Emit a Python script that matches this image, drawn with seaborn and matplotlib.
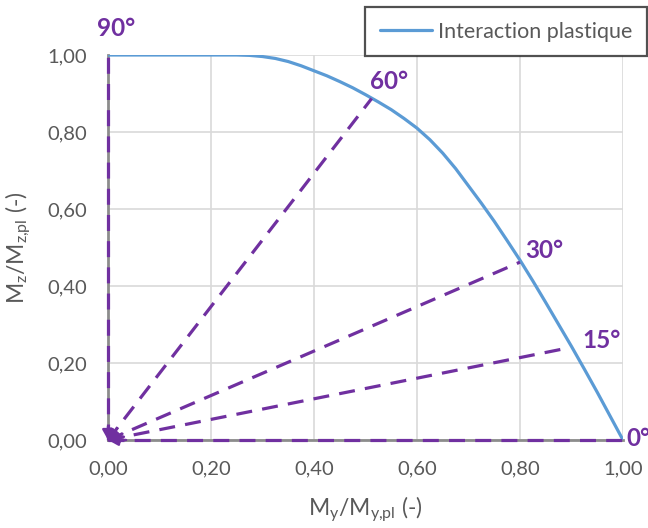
import numpy as np
import pandas as pd
import matplotlib
matplotlib.use("Agg")
import matplotlib.pyplot as plt
import seaborn as sns
from matplotlib.ticker import FuncFormatter

# Plastic interaction curve (My/My,pl vs Mz/Mz,pl)
curve_my = [0.000, 0.050, 0.100, 0.150, 0.200, 0.250, 0.275, 0.300, 0.325, 0.350,
            0.375, 0.400, 0.425, 0.450, 0.475, 0.500, 0.525, 0.550, 0.575, 0.600,
            0.625, 0.650, 0.675, 0.700, 0.725, 0.750, 0.775, 0.800, 0.825, 0.850,
            0.875, 0.900, 0.925, 0.950, 0.975, 1.000]
curve_mz = [1.000, 1.000, 1.000, 1.000, 1.000, 1.000, 0.999, 0.996, 0.991, 0.983,
            0.972, 0.959, 0.946, 0.931, 0.915, 0.897, 0.878, 0.858, 0.835, 0.810,
            0.780, 0.745, 0.705, 0.660, 0.615, 0.568, 0.518, 0.467, 0.413, 0.357,
            0.300, 0.243, 0.184, 0.124, 0.062, 0.000]

# Loading directions (angle label, end point of the ray)
angle_labels = ["0°", "15°", "30°", "60°", "90°"]
ray_end_my = [1.000, 0.882, 0.800, 0.512, 0.000]
ray_end_mz = [0.000, 0.236, 0.462, 0.887, 1.000]

x_ticks = [0.0, 0.2, 0.4, 0.6, 0.8, 1.0]
y_ticks = [0.0, 0.2, 0.4, 0.6, 0.8, 1.0]

sns.set_theme(style="white")
plt.rcParams["font.family"] = ["Lato", "DejaVu Sans"]
plt.rcParams["mathtext.default"] = "regular"

blue = "#5B9BD5"
purple = "#7030A0"
grey_txt = "#595959"

fig = plt.figure(figsize=(6.48, 5.28), dpi=100)
ax = fig.add_axes([108 / 648, 88 / 528, 515 / 648, 385 / 528])

curve_df = pd.DataFrame({"my": curve_my, "mz": curve_mz})
sns.lineplot(data=curve_df, x="my", y="mz", ax=ax, color=blue, linewidth=2.3,
             sort=False, estimator=None, errorbar=None,
             label="Interaction plastique", zorder=4)

for lab, ex, ey in zip(angle_labels, ray_end_my, ray_end_mz):
    ray_df = pd.DataFrame({"my": [0.0, ex], "mz": [0.0, ey]})
    sns.lineplot(data=ray_df, x="my", y="mz", ax=ax, color=purple, linewidth=2.3,
                 sort=False, estimator=None, errorbar=None, legend=False, zorder=5)
    ray = ax.lines[-1]
    ray.set_linestyle((0, (5.0, 3.2)))
    ray.set_clip_on(False)
    # arrowhead pointing back to the origin
    ax.annotate("", xy=(0.0, 0.0), xytext=(0.035 * ex, 0.035 * ey),
                arrowprops=dict(arrowstyle="-|>,head_length=0.5,head_width=0.28",
                                color=purple, lw=1.8, shrinkA=0, shrinkB=0),
                zorder=6, annotation_clip=False)

# label anchor: left edge, baseline
label_pos = {
    "0°": (1.007, -0.016),
    "15°": (0.922, 0.239),
    "30°": (0.810, 0.473),
    "60°": (0.509, 0.911),
    "90°": (-0.021, 1.049),
}
for lab in angle_labels:
    x, y = label_pos[lab]
    ax.text(x, y, lab, color=purple, fontsize=17.5, fontweight="bold",
            ha="left", va="baseline", zorder=7, clip_on=False)

ax.set_xlim(0, 1)
ax.set_ylim(0, 1)
ax.set_xticks(x_ticks)
ax.set_yticks(y_ticks)
fmt = FuncFormatter(lambda v, p: f"{v:.2f}".replace(".", ","))
ax.xaxis.set_major_formatter(fmt)
ax.yaxis.set_major_formatter(fmt)
ax.tick_params(axis="both", labelsize=14.5, colors=grey_txt, length=0, pad=15)

ax.grid(True, color="#D9D9D9", linewidth=1.2)
ax.set_axisbelow(True)
for side in ["top", "right"]:
    ax.spines[side].set_visible(False)
for side in ["left", "bottom"]:
    ax.spines[side].set_color("#8C8C8C")
    ax.spines[side].set_linewidth(2.0)
    ax.spines[side].set_zorder(3)

ax.set_xlabel("$M_y/M_{y{,}pl}$ (-)", fontsize=16.5, color=grey_txt)
ax.set_ylabel("$M_z/M_{z{,}pl}$ (-)", fontsize=16.5, color=grey_txt)
ax.xaxis.set_label_coords(0.5, -0.14)
ax.yaxis.set_label_coords(-0.145, 0.5)

leg = ax.legend(loc="upper left", bbox_to_anchor=(365 / 648, 1 - 7 / 528),
                bbox_transform=fig.transFigure, fontsize=15.5, frameon=True,
                fancybox=False, handlelength=2.45, handletextpad=0.25,
                borderpad=0.68, borderaxespad=0)
leg.get_frame().set_edgecolor("#262626")
leg.get_frame().set_linewidth(1.6)
for t in leg.get_texts():
    t.set_color(grey_txt)

fig.savefig("out.png", dpi=100)
